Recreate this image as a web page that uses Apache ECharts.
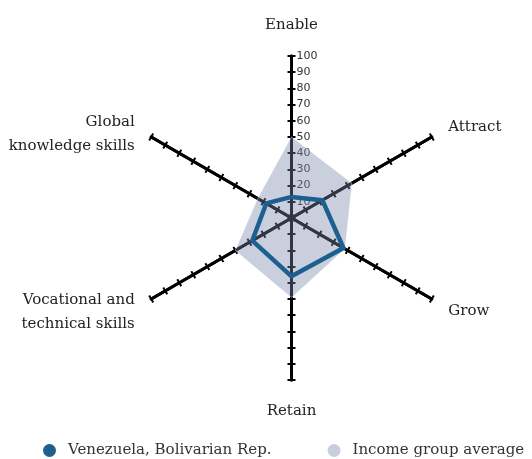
<!DOCTYPE html>
<html>
<head>
<meta charset="utf-8">
<script src="https://cdn.jsdelivr.net/npm/echarts@6/dist/echarts.min.js"></script>
<style>
  html, body { margin: 0; padding: 0; background: #fff; }
  #chart { width: 532px; height: 459px; }
</style>
</head>
<body>
<div id="chart"></div>
<script>
// indicators, clockwise from the top
var dimensions = ['Enable', 'Attract', 'Grow', 'Retain', 'Vocational and\ntechnical skills', 'Global\nknowledge skills'];
var venezuela = [13, 22, 37, 36, 28, 18];
var incomeAvg = [50, 43, 38, 49, 40, 24];
var seriesNames = ['Venezuela, Bolivarian Rep.', 'Income group average'];

// echarts lays radar indicators out counter-clockwise, so flip the order
var order = [0, 5, 4, 3, 2, 1];
function reorder(arr) {
    return order.map(function (i) { return arr[i]; });
}

// some names sit a little lower in the original; an empty spacer line pushes them down
var nameShift = { 'Grow': 's6', 'Vocational and\ntechnical skills': 's8', 'Global\nknowledge skills': 's14' };

var serif = 'DejaVu Serif';
var chart = echarts.init(document.getElementById('chart'));

var indicators = reorder(dimensions).map(function (d, i) {
    var ind = { name: d, min: 0, max: 100 };
    if (i === 0) ind.axisLabel = { show: true };   // only the top axis carries numbers
    return ind;
});

var radarBase = {
    center: [291.5, 218],
    radius: 162,
    startAngle: 90,
    splitNumber: 10,
    shape: 'polygon',
    splitLine: { show: false },
    splitArea: { show: false },
    axisLine: { lineStyle: { color: '#000', width: 3 } }
};

var option = {
    animation: false,
    legend: {
        left: 43,
        top: 443,
        padding: 0,
        itemWidth: 13,
        itemHeight: 13,
        itemGap: 56,
        icon: 'circle',
        textStyle: { fontFamily: serif, fontSize: 15, color: '#333', padding: [0, 0, 0, 7] },
        data: seriesNames
    }
};

option.radar = [
    Object.assign({}, radarBase, {
        indicator: indicators,
        axisName: {
            color: '#222', fontFamily: serif, fontSize: 15, lineHeight: 24,
            formatter: function (name) {
                return nameShift[name] ? '{' + nameShift[name] + '| }\n' + name : name;
            },
            rich: {
                s6: { fontSize: 1, lineHeight: 6, height: 6 },
                s8: { fontSize: 1, lineHeight: 8, height: 8 },
                s14: { fontSize: 1, lineHeight: 14, height: 14 }
            }
        },
        nameGap: 19,
        axisTick: { show: true, length: 4, lineStyle: { color: '#000', width: 2 } },
        axisLabel: {
            show: false,
            showMinLabel: false,
            color: '#333',
            fontFamily: 'DejaVu Sans',
            fontSize: 11,
            margin: -5,
            align: 'left'
        }
    }),
    // second copy only to put the ticks on the other side of each axis
    Object.assign({}, radarBase, {
        indicator: dimensions.map(function () { return { name: '', min: 0, max: 100 }; }),
        axisName: { show: false },
        axisTick: { show: true, length: -4, lineStyle: { color: '#000', width: 2 } },
        axisLabel: { show: false }
    })
];

option.series = [
    {
        name: seriesNames[1],
        type: 'radar',
        radarIndex: 0,
        symbol: 'none',
        itemStyle: { color: '#c8cedd' },
        lineStyle: { color: 'rgba(255,255,255,0.5)', width: 1 },
        areaStyle: { color: 'rgb(120,135,170)', opacity: 0.4 },
        data: [{ value: reorder(incomeAvg), name: seriesNames[1] }]
    },
    {
        name: seriesNames[0],
        type: 'radar',
        radarIndex: 0,
        symbol: 'none',
        itemStyle: { color: '#1d5f8e' },
        lineStyle: { color: '#1d5f8e', width: 4.5 },
        data: [{ value: reorder(venezuela), name: seriesNames[0] }]
    }
];

chart.setOption(option);
</script>
</body>
</html>
